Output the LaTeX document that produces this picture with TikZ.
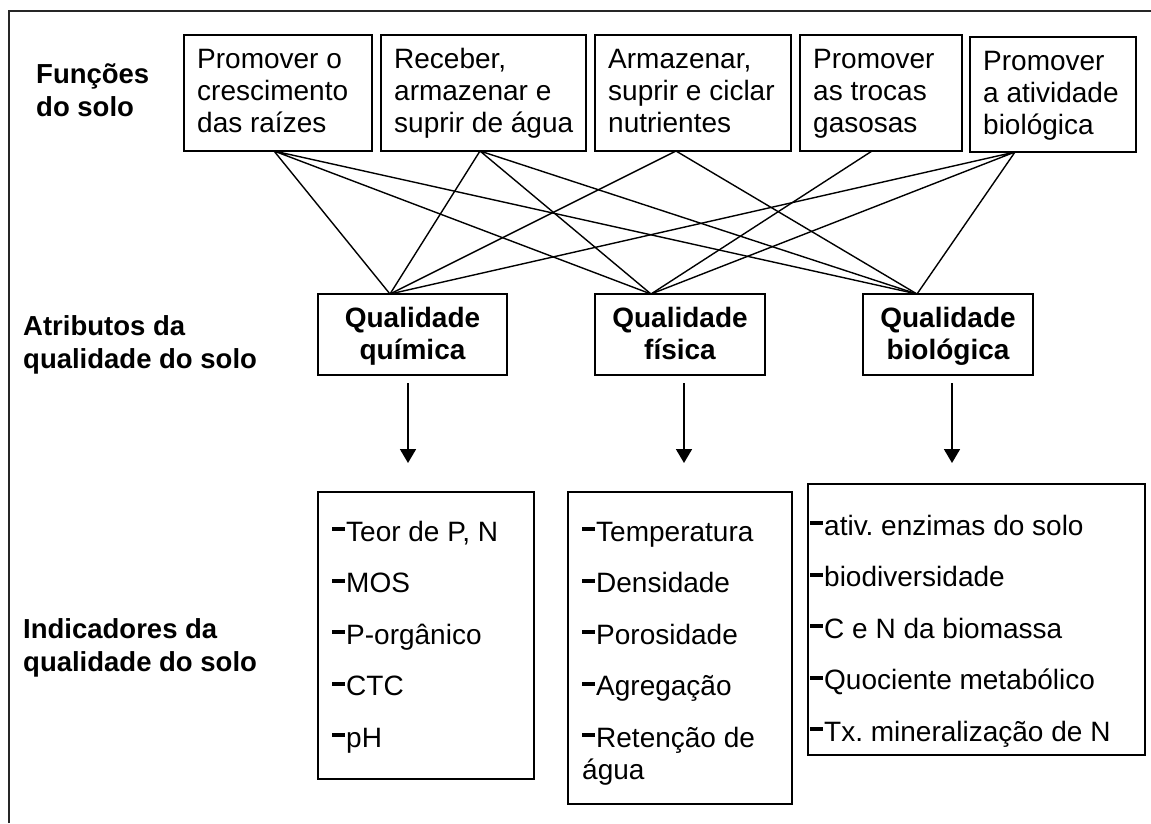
\documentclass[tikz,border=0pt]{standalone}
\usepackage{fontspec}
\setmainfont{Liberation Sans}
\usetikzlibrary{arrows.meta}
\frenchspacing
\newcommand\idash{\rule[10pt]{13pt}{3.8pt}\hspace{1pt}}
\newcommand\fstrut{\rule{0pt}{22pt}}
\begin{document}
\begin{tikzpicture}[x=1pt,y=-1pt,
  every node/.style={font=\fontsize{28}{32}\selectfont},
  frame/.style={draw=black!85,line width=2pt},
  fbox/.style={draw,line width=1.6pt,anchor=north west,inner sep=0pt,outer sep=0pt},
  txt/.style={anchor=north west,inner sep=0pt,align=left},
  ctxt/.style={anchor=north,inner sep=0pt,align=center,font=\fontsize{28}{32}\selectfont\bfseries},
  lbl/.style={anchor=north west,inner sep=0pt,align=left,font=\fontsize{27.5}{33.5}\selectfont\bfseries},
  link/.style={line width=1.4pt},
  arr/.style={line width=1.8pt,-{Triangle[length=14pt,width=16pt]}},
  ]
\useasboundingbox (0,0) rectangle (1151,823);
\draw[frame] (9,823) -- (9,10.5) -- (1151,10.5);

% left labels
\node[lbl] (l1) at (36,61) {\fstrut Funções\\do solo};
\node[lbl] (l2) at (23,313) {\fstrut Atributos da\\qualidade do solo};
\node[lbl] (l3) at (23,616) {\fstrut Indicadores da\\qualidade do solo};

% function boxes
\node[fbox,minimum width=188pt,minimum height=116pt] (f1) at (184,35) {};
\node[fbox,minimum width=205pt,minimum height=116pt] (f2) at (381,35) {};
\node[fbox,minimum width=196pt,minimum height=116pt] (f3) at (595,35) {};
\node[fbox,minimum width=162pt,minimum height=116pt] (f4) at (800,35) {};
\node[fbox,minimum width=166pt,minimum height=115pt] (f5) at (970,37) {};
\node[txt] (t1) at (197,46) {\fstrut Promover o\\crescimento\\das raízes};
\node[txt] (t2) at (394,46) {\fstrut Receber,\\armazenar e\\suprir de água};
\node[txt] (t3) at (608,46) {\fstrut Armazenar,\\suprir e ciclar\\nutrientes};
\node[txt] (t4) at (813,46) {\fstrut Promover\\as trocas\\gasosas};
\node[txt] (t5) at (983,48) {\fstrut Promover\\a atividade\\biológica};

% quality boxes
\node[fbox,minimum width=189pt,minimum height=81pt] (qq) at (318,294) {};
\node[fbox,minimum width=170pt,minimum height=81pt] (qf) at (595,294) {};
\node[fbox,minimum width=170pt,minimum height=81pt] (qb) at (863,294) {};
\node[ctxt] (qqt) at (412.5,305) {\fstrut Qualidade\\química};
\node[ctxt] (qft) at (680,305) {\fstrut Qualidade\\física};
\node[ctxt] (qbt) at (948,305) {\fstrut Qualidade\\biológica};

% connector end points
\coordinate (s1) at (274,151);
\coordinate (s2) at (480,151);
\coordinate (s3) at (676,151);
\coordinate (s4) at (872,151);
\coordinate (s5) at (1015,152);
\coordinate (d1) at (390,294);
\coordinate (d2) at (651,294);
\coordinate (d3) at (917,294);
\draw[link] (s1) -- (d1) (s1) -- (d2) (s1) -- (d3);
\draw[link] (s2) -- (d1) (s2) -- (d2) (s2) -- (d3);
\draw[link] (s3) -- (d1) (s3) -- (d3);
\draw[link] (s4) -- (d2);
\draw[link] (s5) -- (d1) (s5) -- (d2) (s5) -- (d3);

% arrows
\coordinate (a1) at (408,383);
\coordinate (b1) at (408,463);
\coordinate (a2) at (684,383);
\coordinate (b2) at (684,463);
\coordinate (a3) at (952,383);
\coordinate (b3) at (952,463);
\draw[arr] (a1) -- (b1);
\draw[arr] (a2) -- (b2);
\draw[arr] (a3) -- (b3);

% indicator boxes
\node[fbox,minimum width=216pt,minimum height=287pt] (iq) at (318,492) {};
\node[fbox,minimum width=224pt,minimum height=312pt] (if) at (568,492) {};
\node[fbox,minimum width=337pt,minimum height=271pt] (ib) at (808,484) {};
\node[txt] (iqt) at (332,519) {\fstrut\idash Teor de P, N\\[19.5pt]\idash MOS\\[19.5pt]\idash P-orgânico\\[19.5pt]\idash CTC\\[19.5pt]\idash pH};
\node[txt] (ift) at (582,519) {\fstrut\idash Temperatura\\[19.5pt]\idash Densidade\\[19.5pt]\idash Porosidade\\[19.5pt]\idash Agregação\\[19.5pt]\idash Retenção de\\água};
\node[txt] (ibt) at (810,513) {\fstrut\idash ativ. enzimas do solo\\[19.5pt]\idash biodiversidade\\[19.5pt]\idash C e N da biomassa\\[19.5pt]\idash Quociente metabólico\\[19.5pt]\idash Tx. mineralização de N};
\end{tikzpicture}
\end{document}
